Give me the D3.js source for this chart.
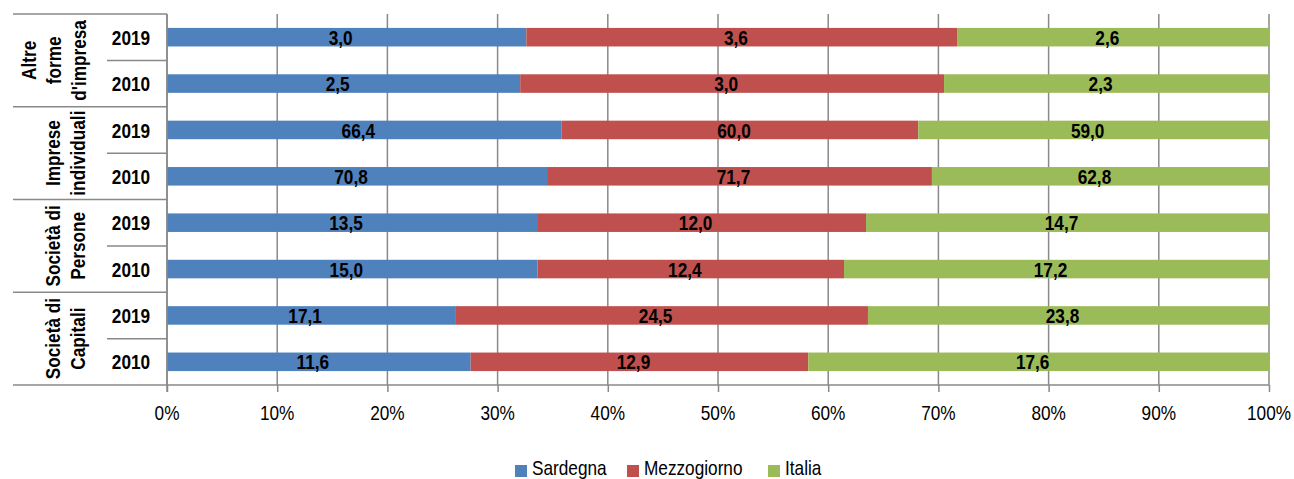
<!DOCTYPE html>
<html><head><meta charset="utf-8">
<script src="https://cdn.jsdelivr.net/npm/d3@7"></script>
<style>
html,body{margin:0;padding:0;background:#fff;}
svg{display:block;}
text{font-family:"Liberation Sans",Arial,sans-serif;}
</style></head><body>
<svg id="chart" width="1294" height="479"></svg>
<script>
const groups = [
  ["Altre", "forme", "d'impresa"],
  ["Imprese", "individuali"],
  ["Società di", "Persone"],
  ["Società di", "Capitali"]
];
const years = ["2019", "2010"];
const seriesNames = ["Sardegna", "Mezzogiorno", "Italia"];
const colors = ["#4F81BD", "#C0504D", "#9BBB59"];
const sardegna    = [3.0, 2.5, 66.4, 70.8, 13.5, 15.0, 17.1, 11.6];
const mezzogiorno = [3.6, 3.0, 60.0, 71.7, 12.0, 12.4, 24.5, 12.9];
const italia      = [2.6, 2.3, 59.0, 62.8, 14.7, 17.2, 23.8, 17.6];
const xTicks = [0, 0.1, 0.2, 0.3, 0.4, 0.5, 0.6, 0.7, 0.8, 0.9, 1];

const rows = [];
groups.forEach((g, gi) => years.forEach((y, yi) => {
  const i = gi * years.length + yi;
  rows.push({key: gi + "-" + y, group: gi, year: y,
    Sardegna: sardegna[i], Mezzogiorno: mezzogiorno[i], Italia: italia[i]});
}));

const svg = d3.select("#chart");
const L = 167, R = 1269, T = 14, B = 385;
const tableLeft = 13, yearLeft = 107;
const gridColor = "#898989";
const FS = 21, NARROW = 0.82;

// narrow text helper (emulates Arial Narrow)
function ntext(parent, x, y, str, opts = {}) {
  const g = parent.append("g")
    .attr("transform", `translate(${x},${y})` + (opts.rotate ? ` rotate(${opts.rotate})` : "") + ` scale(${NARROW},1)`);
  const t = g.append("text").attr("font-size", opts.size || FS)
    .attr("text-anchor", opts.anchor || "middle")
    .attr("dy", opts.dy == null ? "0.36em" : opts.dy)
    .attr("fill", "#000")
    .text(str);
  if (opts.bold) t.attr("font-weight", "bold");
  return g;
}

const x = d3.scaleLinear().domain([0, 1]).range([L, R]);
const y = d3.scaleBand().domain(rows.map(r => r.key)).range([T, B]).paddingInner(0.6).paddingOuter(0.3);
const rowH = (B - T) / rows.length;

const stack = d3.stack().keys(seriesNames).offset(d3.stackOffsetExpand);
const stacked = stack(rows);

// gridlines + ticks
const axis = d3.axisBottom(x).tickValues(xTicks).tickSize(7).tickFormat("");
const gAxis = svg.append("g").attr("transform", `translate(0,${B})`).call(axis);
gAxis.select(".domain").remove();
gAxis.selectAll(".tick line").attr("stroke", gridColor).attr("stroke-width", 1.5);
const pct = d3.format(".0%");
const tl = svg.append("g");
xTicks.forEach(v => ntext(tl, x(v), 412, pct(v), {}));
svg.append("g").selectAll("line").data(xTicks).join("line")
  .attr("x1", d => x(d)).attr("x2", d => x(d)).attr("y1", T).attr("y2", B)
  .attr("stroke", gridColor).attr("stroke-width", 1.5);

// bars
const layer = svg.append("g").selectAll("g").data(stacked).join("g")
  .attr("fill", (d, i) => colors[i]);
layer.selectAll("rect").data(d => d).join("rect")
  .attr("x", d => x(d[0])).attr("width", d => x(d[1]) - x(d[0]))
  .attr("y", d => y(d.data.key)).attr("height", y.bandwidth());

// labels
const fmt = v => v.toFixed(1).replace(".", ",");
const lab = svg.append("g");
stacked.forEach(s => s.forEach(d => {
  ntext(lab, (x(d[0]) + x(d[1])) / 2 - 6, y(d.data.key) + y.bandwidth() / 2, fmt(d.data[s.key]), {bold: true});
}));

// table lines (category axis)
const gT = svg.append("g").attr("stroke", gridColor).attr("stroke-width", 1.5);
gT.selectAll("line.grp").data(d3.range(groups.length + 1)).join("line")
  .attr("x1", tableLeft).attr("x2", d => d === groups.length ? R : L)
  .attr("y1", d => T + d * rowH * years.length).attr("y2", d => T + d * rowH * years.length);
gT.selectAll("line.yr").data(d3.range(groups.length)).join("line")
  .attr("x1", yearLeft).attr("x2", L)
  .attr("y1", d => T + (d * 2 + 1) * rowH).attr("y2", d => T + (d * 2 + 1) * rowH);
gT.append("line").attr("x1", L).attr("x2", L).attr("y1", T).attr("y2", B + 7);

// year labels
const yl = svg.append("g");
rows.forEach(r => ntext(yl, 131, y(r.key) + y.bandwidth() / 2, r.year, {bold: true}));

// group labels (rotated)
const gl = svg.append("g");
groups.forEach((lines, gi) => {
  const cy = T + (gi + 0.5) * rowH * years.length;
  const centerX = lines.length === 3 ? 53 : 64.5;
  lines.forEach((ln, li) => {
    const cx = centerX + (li - (lines.length - 1) / 2) * 25;
    ntext(gl, cx, cy, ln, {bold: true, rotate: -90});
  });
});

// legend
const legendX = [515, 627, 768];
const lg = svg.append("g");
seriesNames.forEach((s, i) => {
  lg.append("rect").attr("x", legendX[i]).attr("y", 465).attr("width", 12).attr("height", 12).attr("fill", colors[i]);
  ntext(lg, legendX[i] + 17, 475, s, {anchor: "start", dy: 0});
});
</script>
</body></html>
